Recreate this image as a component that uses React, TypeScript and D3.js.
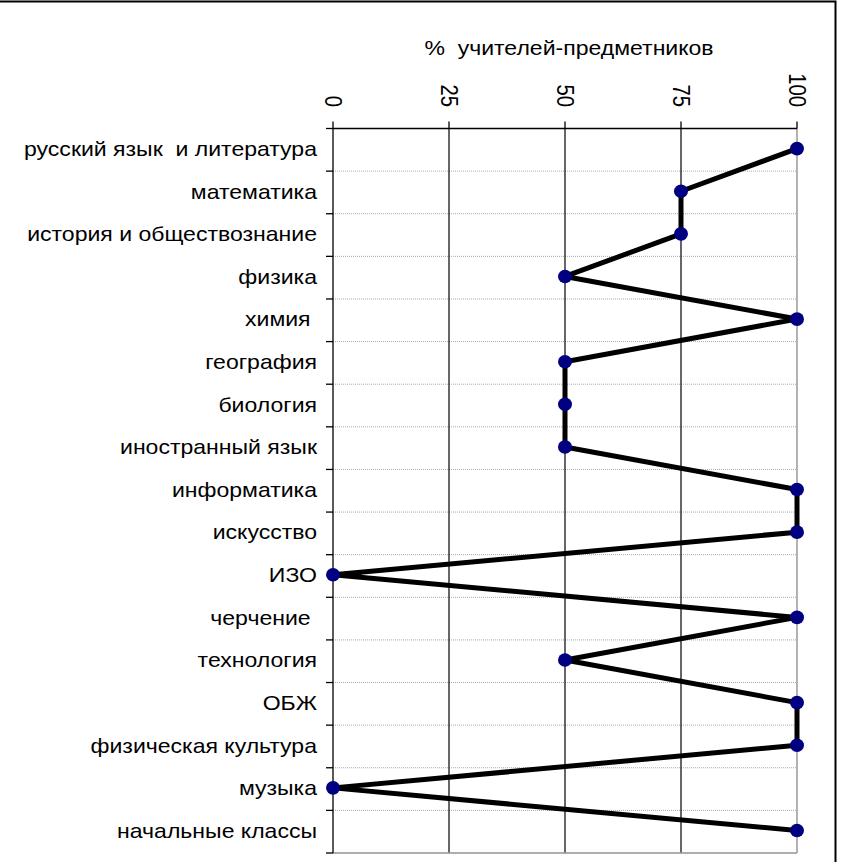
import React from "react";
import * as d3 from "d3";

const categories = [
  "русский язык  и литература",
  "математика",
  "история и обществознание",
  "физика",
  "химия ",
  "география",
  "биология",
  "иностранный язык",
  "информатика",
  "искусство",
  "ИЗО",
  "черчение ",
  "технология",
  "ОБЖ",
  "физическая культура",
  "музыка",
  "начальные классы",
];
const values = [100, 75, 75, 50, 100, 50, 50, 50, 100, 100, 0, 100, 50, 100, 100, 0, 100];
const xTicks = [0, 25, 50, 75, 100];
const title = "%  учителей-предметников";

const W = 843;
const H = 862;
const left = 333;
const right = 797;
const top = 128.5;
const bottom = 853;
const FONT = "'Liberation Sans', Arial, sans-serif";
const FS = 20.3;
const SX = 1.135;

export default function App() {
  const x = d3.scaleLinear().domain([0, 100]).range([left, right]);
  const y = d3.scaleBand<string>().domain(categories.map((c, i) => i + "")).range([top, bottom]).padding(0);
  const cy = (i: number) => (y(i + "") as number) + y.bandwidth() / 2;
  const py = (i: number) => cy(i) - 1.2;
  const line = d3
    .line<number>()
    .x((d) => x(d))
    .y((_, i) => py(i));
  const boundaries = d3.range(categories.length + 1).map((i) => top + i * y.bandwidth());

  return (
    <svg
      width={W}
      height={H}
      style={{ position: "absolute", left: 0, top: 0, background: "#fff" }}
      fontFamily={FONT}
    >
      <rect x={0} y={0} width={W} height={H} fill="#fff" />
      {/* outer border */}
      <rect x={-10} y={1.5} width={845.5} height={H + 20} fill="none" stroke="#000" strokeWidth={2} />
      {/* horizontal gridlines */}
      {boundaries.slice(1).map((b, i) => (
        <line key={"h" + i} x1={left} x2={right} y1={b} y2={b} stroke="#a8a8a8" strokeWidth={1} strokeDasharray="1,1" />
      ))}
      {/* vertical gridlines */}
      {xTicks.slice(1, -1).map((t) => (
        <line key={"v" + t} x1={x(t)} x2={x(t)} y1={top} y2={bottom} stroke="#000" strokeWidth={1.2} />
      ))}
      {/* plot right & bottom border (gray) */}
      <line x1={right} x2={right} y1={top} y2={bottom} stroke="#9a9a9a" strokeWidth={1.5} />
      <line x1={left} x2={right} y1={bottom} y2={bottom} stroke="#9a9a9a" strokeWidth={1.5} />
      {/* top axis */}
      <line x1={left} x2={right} y1={top} y2={top} stroke="#000" strokeWidth={1.3} />
      {xTicks.map((t) => (
        <g key={"t" + t}>
          <line x1={x(t)} x2={x(t)} y1={top - 7} y2={top} stroke="#000" strokeWidth={1.3} />
          <text
            transform={`translate(${x(t)},107) rotate(90) scale(1,${SX})`}
            textAnchor="end"
            dominantBaseline="central"
            fontSize={FS}
          >
            {t}
          </text>
        </g>
      ))}
      {/* left axis */}
      <line x1={left} x2={left} y1={top} y2={bottom} stroke="#000" strokeWidth={1.3} />
      {boundaries.map((b, i) => (
        <line key={"lt" + i} x1={left - 7} x2={left} y1={b} y2={b} stroke="#000" strokeWidth={1.3} />
      ))}
      {categories.map((c, i) => (
        <text
          key={"c" + i}
          transform={`translate(317,${cy(i)}) scale(${SX},1)`}
          dy="0.3em"
          textAnchor="end"
          fontSize={FS}
          style={{ whiteSpace: "pre" }}
        >
          {c}
        </text>
      ))}
      {/* title */}
      <text
        transform={`translate(569,55) scale(${SX},1)`}
        textAnchor="middle"
        fontSize={FS}
        style={{ whiteSpace: "pre" }}
      >
        {title}
      </text>
      {/* series */}
      <path d={line(values) || ""} fill="none" stroke="#000" strokeWidth={5} strokeLinejoin="round" />
      {values.map((v, i) => (
        <ellipse key={"p" + i} cx={x(v)} cy={py(i)} rx={7} ry={6.8} fill="#000080" />
      ))}
    </svg>
  );
}
